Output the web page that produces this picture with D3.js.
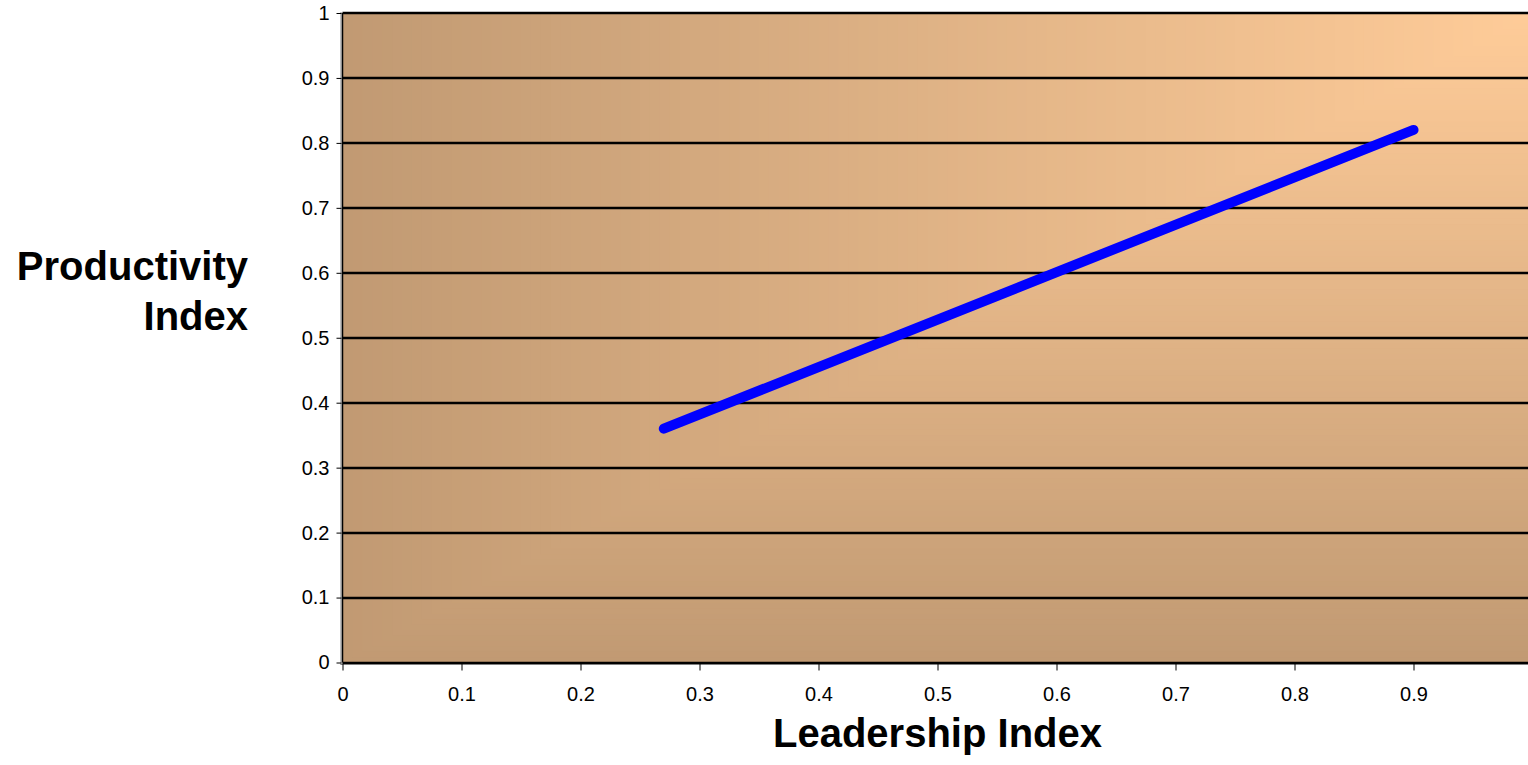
<!DOCTYPE html>
<html>
<head>
<meta charset="utf-8">
<script src="https://cdn.jsdelivr.net/npm/d3@7"></script>
<style>
  html, body { margin: 0; padding: 0; background: #ffffff; }
  svg { display: block; }
  text { font-family: "Liberation Sans", Arial, sans-serif; }
</style>
</head>
<body>
<svg id="chart" width="1528" height="765"></svg>
<script>
// ---- data ----
const leadership = [0.27, 0.90];
const productivity = [0.36, 0.82];
const xTicks = [0, 0.1, 0.2, 0.3, 0.4, 0.5, 0.6, 0.7, 0.8, 0.9];
const yTicks = [0, 0.1, 0.2, 0.3, 0.4, 0.5, 0.6, 0.7, 0.8, 0.9, 1];
const xTitle = "Leadership Index";
const yTitleLines = ["Productivity", "Index"];

// ---- layout ----
const svg = d3.select("#chart");
const pLeft = 342.5, pRight = 1532.5, pTop = 13, pBottom = 662.5;
const x = d3.scaleLinear().domain([0, 1]).range([pLeft, pRight]);
const y = d3.scaleLinear().domain([0, 1]).range([pBottom, pTop]);

// background: rectangular "from corner" gradient anchored at top-right
const darkCol = "#C19A73", lightCol = "#FFCC99";
const col = d3.interpolateRgb(lightCol, darkCol);
const N = 120;
const W = pRight - pLeft, H = pBottom - pTop;
svg.append("g").selectAll("rect")
  .data(d3.range(N, 0, -1).map(i => i / N))
  .join("rect")
  .attr("x", t => pRight - t * W)
  .attr("y", pTop)
  .attr("width", t => t * W)
  .attr("height", t => t * H)
  .attr("fill", t => col(t));

// gridlines
svg.append("g").selectAll("line")
  .data(yTicks)
  .join("line")
  .attr("x1", pLeft).attr("x2", pRight + 10)
  .attr("y1", d => Math.round(y(d))).attr("y2", d => Math.round(y(d)))
  .attr("stroke", "#000").attr("stroke-width", 2.4);

// axis lines (gray outer) + plot border (black)
svg.append("line").attr("x1", pLeft - 1.5).attr("x2", pLeft - 1.5)
  .attr("y1", pTop - 1).attr("y2", pBottom + 2).attr("stroke", "#808080").attr("stroke-width", 1);
svg.append("line").attr("x1", pLeft).attr("x2", pLeft)
  .attr("y1", pTop).attr("y2", pBottom).attr("stroke", "#000").attr("stroke-width", 1.5);
svg.append("line").attr("x1", pLeft - 2).attr("x2", pRight + 10)
  .attr("y1", pBottom + 2).attr("y2", pBottom + 2).attr("stroke", "#808080").attr("stroke-width", 1);

// y axis
const fmt = d => String(+d.toFixed(1));
const yAxis = d3.axisLeft(y).tickValues(yTicks).tickSize(5).tickPadding(7).tickFormat(fmt);
const gy = svg.append("g").attr("transform", `translate(${pLeft - 1},0)`).call(yAxis);
gy.select(".domain").remove();
gy.selectAll(".tick line").attr("stroke", "#000");
gy.selectAll(".tick text").attr("font-size", 20).attr("fill", "#000")
  .style("font-family", '"Liberation Sans", Arial, sans-serif');

// x axis
const xAxis = d3.axisBottom(x).tickValues(xTicks).tickSize(7).tickPadding(16.5).tickFormat(fmt);
const gx = svg.append("g").attr("transform", `translate(0,${pBottom + 1})`).call(xAxis);
gx.select(".domain").remove();
gx.selectAll(".tick line").attr("stroke", "#000");
gx.selectAll(".tick text").attr("font-size", 20).attr("fill", "#000")
  .style("font-family", '"Liberation Sans", Arial, sans-serif');

// trend line
const pts = leadership.map((v, i) => [v, productivity[i]]);
svg.append("path")
  .datum(pts)
  .attr("d", d3.line().x(d => x(d[0])).y(d => y(d[1])))
  .attr("fill", "none")
  .attr("stroke", "#0000FF")
  .attr("stroke-width", 10)
  .attr("stroke-linecap", "round");

// titles
svg.append("text")
  .attr("x", (pLeft + pRight) / 2).attr("y", 747)
  .attr("text-anchor", "middle")
  .attr("font-size", 40).attr("font-weight", "bold")
  .text(xTitle);

svg.append("text")
  .attr("text-anchor", "end")
  .attr("font-size", 40).attr("font-weight", "bold")
  .selectAll("tspan")
  .data(yTitleLines)
  .join("tspan")
  .attr("x", 248)
  .attr("y", (d, i) => 280 + i * 50)
  .text(d => d);
</script>
</body>
</html>
